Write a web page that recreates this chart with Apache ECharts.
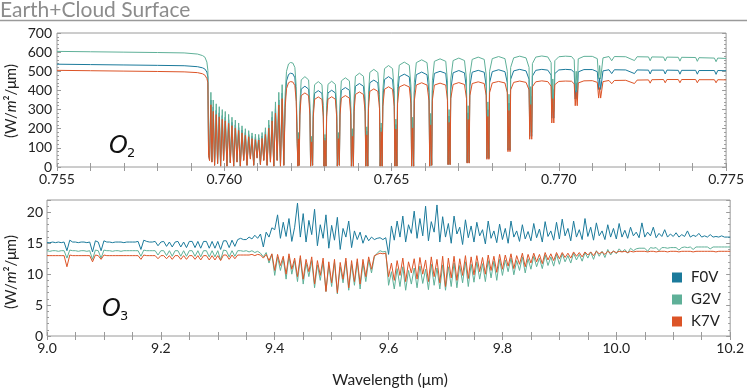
<!DOCTYPE html>
<html>
<head>
<meta charset="utf-8">
<script src="https://cdn.jsdelivr.net/npm/echarts@6/dist/echarts.min.js"></script>
<style>
  html, body { margin: 0; padding: 0; background: #fff; }
  #chart { width: 747px; height: 391px; }
</style>
</head>
<body>
<div id="chart"></div>
<script>
// ---- data ----
const starNames = ["F0V", "G2V", "K7V"];
const starColors = ["#1b7a9b", "#5fb098", "#dc5427"];

// O2 A-band panel (wavelength in um, flux in W/m2/um)
const o2Wave = [
  0.7550,0.7560,0.7570,0.7580,0.7588,0.7592,0.75935,0.75942,0.75948,0.75951,0.75953,
  0.75956,0.75960,0.75963,0.75967,0.75971,0.75976,0.75980,0.75985,0.75989,0.75994,0.75998,
  0.76003,0.76008,0.76013,0.76018,0.76023,0.76028,0.76033,0.76038,0.76043,0.76048,
  0.76053,0.76058,0.76063,0.76068,0.76073,0.76078,0.76083,0.76088,0.76093,0.76098,
  0.76103,0.76108,0.76113,0.76118,0.76123,0.76128,0.76133,0.76138,0.76143,0.76148,
  0.76153,0.76158,0.76163,0.76168,0.76173,0.76178,
  0.76182,0.76186,0.76192,0.76198,0.76205,0.76211,0.76215,0.76218,0.76220,0.76222,0.76224,
  0.76226,0.76230,0.76241,0.76252,0.76256,0.76258,0.76261,0.76264,
  0.76266,0.76270,0.76281,0.76292,0.76296,0.76298,0.76301,0.76304,
  0.76306,0.76310,0.76321,0.76332,0.76336,0.76338,0.76341,0.76344,
  0.76346,0.76350,0.76362,0.76374,0.76378,0.76380,0.76383,0.76386,
  0.76388,0.76392,0.76404,0.76416,0.76421,0.76423,0.76426,0.76429,
  0.76431,0.76435,0.76447,0.76459,0.76464,0.76466,0.76469,0.76472,
  0.76474,0.76479,0.76491,0.76503,0.76508,0.76510,0.76513,0.76516,
  0.76518,0.76523,0.76538,0.76553,0.76558,0.76560,0.76563,0.76566,
  0.76568,0.76574,0.76590,0.76606,0.76612,0.76614,0.76617,0.76620,
  0.76622,0.76628,0.76645,0.76662,0.76667,0.76669,0.76672,0.76675,
  0.76677,0.76684,0.76701,0.76718,0.76724,0.76726,0.76729,0.76732,
  0.76734,0.76741,0.76759,0.76777,0.76783,0.76785,0.76788,0.76791,
  0.76793,0.76801,0.76820,0.76839,0.76846,0.76848,0.76851,0.76854,
  0.76856,0.76865,0.76883,0.76902,0.76911,0.76913,0.76916,0.76919,
  0.76921,0.76931,0.76949,0.76967,0.76977,0.76979,0.76982,0.76985,
  0.76988,0.77000,0.77020,0.77038,0.77046,0.77049,0.77052,0.77055,
  0.77058,0.77075,0.77100,0.77115,0.77119,0.77122,0.77125,
  0.77132,0.77150,0.77158,0.77166,0.77200,0.77226,0.77234,0.77268,0.77273,0.77278,0.77313,0.77318,
  0.77323,0.77357,0.77362,0.77367,0.77409,0.77414,0.77419,0.77465,0.77470,0.77475,0.77500
];
const o2G2V = [
  604,602,600,598,596,590,582,574,548,505,90,
  40,390,30,350,10,330,20,315,5,300,40,
  290,5,275,25,260,5,245,30,230,5,
  215,40,200,10,190,50,178,10,172,55,
  170,15,180,40,205,10,245,30,290,5,
  340,40,390,5,430,10,
  380,500,538,546,543,520,420,150,5,180,10,
  330,455,472,455,330,5,160,10,
  320,430,446,430,320,5,170,5,
  320,432,448,432,320,5,180,10,
  340,450,466,450,340,5,200,5,
  360,474,490,474,360,5,210,5,
  380,494,510,494,380,5,230,5,
  400,514,530,514,400,5,250,5,
  420,532,548,532,420,5,260,5,
  440,545,560,545,440,5,280,10,
  450,552,565,552,450,15,300,15,
  460,556,569,556,460,25,320,25,
  480,562,574,562,480,50,340,50,
  500,566,577,566,500,100,380,100,
  520,570,579,570,520,180,420,180,
  540,574,580,575,545,290,460,290,
  555,576,579,577,560,400,500,400,
  565,578,578,566,460,530,460,
  570,577,555,577,576,556,576,575,555,575,574,554,
  574,573,553,573,572,552,571,569,550,569,567
];
const o2F0V = [
  537,535,533,531,529,524,518,512,496,470,70,
  36,350,27,314,9,296,18,283,5,269,36,
  260,5,247,22,233,5,220,27,206,5,
  193,36,180,9,170,45,160,9,154,49,
  153,13,162,36,184,9,220,27,260,5,
  305,36,350,5,386,9,
  341,449,483,490,487,466,377,135,5,161,9,
  295,407,422,407,295,5,143,9,
  286,385,399,385,286,5,152,5,
  286,387,401,387,286,5,161,9,
  303,401,415,401,303,5,178,5,
  320,422,436,422,320,5,187,5,
  338,440,454,440,338,5,205,5,
  356,457,472,457,356,5,222,5,
  372,471,485,471,372,5,230,5,
  389,482,496,482,389,5,248,9,
  398,489,500,489,398,13,266,13,
  407,492,504,492,407,22,283,22,
  422,495,505,495,422,45,299,45,
  440,498,508,498,440,88,334,88,
  458,502,510,502,458,160,370,160,
  475,505,510,506,480,255,405,255,
  488,507,510,508,493,355,440,355,
  497,509,509,498,405,466,405,
  502,508,488,508,507,488,507,506,486,506,506,486,
  506,505,485,505,505,485,504,504,484,504,503
];
const o2K7V = [
  505,503,501,499,497,493,487,480,462,440,60,
  33,325,25,291,8,274,17,262,4,249,33,
  241,4,228,21,216,4,203,25,191,4,
  178,33,166,8,158,41,148,8,143,46,
  141,12,149,33,170,8,203,25,241,4,
  282,33,324,4,357,8,
  310,409,440,446,444,425,343,123,4,147,8,
  271,373,387,373,271,4,131,8,
  262,353,366,353,262,4,139,4,
  262,354,367,354,262,4,148,8,
  272,360,373,360,272,4,160,4,
  288,379,392,379,288,4,168,4,
  304,395,408,395,304,4,184,4,
  316,406,419,406,316,4,198,4,
  330,418,430,418,330,4,204,4,
  345,428,440,428,345,4,220,8,
  349,428,438,428,349,12,233,12,
  357,431,441,431,357,20,248,20,
  372,436,445,436,372,40,264,40,
  388,439,447,439,388,80,295,80,
  403,442,449,442,403,145,326,145,
  419,445,450,446,422,230,357,230,
  430,447,449,448,434,320,390,320,
  439,450,451,442,360,415,360,
  446,452,435,452,453,436,454,455,438,456,457,440,
  457,457,440,457,457,440,456,456,440,456,455
];

// O3 panel: samples every 0.005 um from 9.000 to 10.200
const o3Start = 9.0;
const o3Step = 0.005;
const o3F0V = [
  15.1,15.1,15.2,15.1,15.2,15.1,15.2,13.8,15.5,15.2,
  15.2,15.1,15.2,15.2,15.1,15.2,13.6,15.4,15.2,13.8,
  15.4,15.2,15.2,15.1,15.2,15.2,15.2,15.1,15.2,15.2,
  15.2,15.2,15.3,14.0,15.5,15.3,15.2,15.2,15.3,14.6,
  15.2,15.3,14.5,15.2,14.4,15.2,15.3,14.4,15.2,14.3,
  15.3,15.3,14.3,15.3,14.2,15.3,15.3,14.2,15.3,14.2,
  15.3,14.0,15.4,15.4,14.3,15.5,14.5,15.6,15.8,15.6,
  15.6,16.0,15.7,16.3,15.8,16.5,14.4,16.8,16.0,17.5,
  17.2,19.6,15.8,18.4,16.1,19.0,15.3,17.6,21.5,16.0,
  19.8,15.2,18.7,16.4,20.5,14.6,18.0,15.8,19.6,14.2,
  17.9,15.5,19.2,14.0,17.4,16.0,18.6,14.3,17.0,15.6,
  16.8,15.0,16.3,15.4,16.0,15.6,15.8,15.9,15.6,15.9,
  13.2,17.8,15.5,18.6,16.0,19.4,15.2,18.0,16.6,20.2,
  15.8,19.0,16.2,21.0,15.4,18.5,16.8,21.2,15.2,19.3,
  16.0,18.2,15.0,19.4,16.5,17.6,14.8,18.8,15.9,17.8,
  15.2,18.4,16.2,17.2,14.9,18.6,15.8,17.0,15.1,18.1,
  15.6,17.4,15.0,18.6,16.0,17.0,15.3,18.0,15.7,16.9,
  15.4,18.2,15.9,17.3,15.2,18.5,16.1,17.0,15.5,18.4,
  15.7,18.9,16.2,17.4,15.4,18.6,16.0,17.2,15.6,19.0,
  16.1,17.6,15.5,18.3,16.2,17.0,15.6,18.0,16.0,17.4,
  15.7,18.2,16.0,17.1,15.8,17.6,16.2,16.8,15.9,18.3,
  16.0,16.8,16.2,17.6,15.9,16.6,16.1,17.2,16.0,16.5,
  16.1,16.7,16.0,16.4,16.1,17.0,16.0,16.3,16.1,16.6,
  16.0,16.2,16.0,16.4,16.0,16.1,16.0,16.2,16.0,16.0,
  16.0
];
const o3G2V = [
  13.8,13.7,13.8,13.8,13.7,13.8,13.8,12.6,13.9,13.8,
  13.8,13.7,13.8,13.8,13.7,13.8,12.4,13.9,13.8,12.6,
  13.9,13.8,13.8,13.7,13.8,13.8,13.7,13.8,13.8,13.8,
  13.8,13.8,13.8,12.9,13.9,13.8,13.8,13.8,13.8,13.1,
  13.8,13.8,13.0,13.8,12.9,13.8,13.8,12.9,13.8,12.9,
  13.8,13.8,12.9,13.8,12.8,13.8,13.8,12.8,13.8,12.8,
  13.8,12.3,13.9,13.8,12.8,13.8,12.9,13.8,13.8,13.7,
  13.8,13.6,13.8,13.5,13.7,13.4,12.8,13.5,11.8,13.2,
  9.8,12.8,10.6,12.5,9.2,12.9,10.0,12.2,8.8,12.6,
  8.4,11.8,9.6,12.2,7.8,11.5,9.0,12.0,7.2,11.4,
  8.0,11.9,6.8,11.2,8.6,12.1,7.4,11.6,8.2,12.0,
  7.6,11.8,8.8,12.3,10.2,12.8,13.4,13.8,13.6,13.7,
  8.2,10.4,7.6,10.9,8.0,11.2,7.4,10.6,8.4,11.0,
  7.8,11.3,8.5,10.8,7.5,11.6,8.2,11.0,7.6,11.5,
  7.4,11.2,8.0,11.8,7.8,11.4,8.6,12.0,8.0,11.6,
  8.7,12.0,9.2,11.7,8.8,12.2,9.4,12.1,9.0,12.4,
  9.8,12.3,10.4,12.6,9.9,12.2,10.6,12.8,10.2,12.5,
  10.8,12.9,11.2,12.6,10.9,13.1,11.4,12.8,11.3,13.2,
  11.6,13.3,12.0,13.0,11.8,13.4,12.3,13.2,12.1,13.5,
  12.6,13.6,12.4,13.8,12.9,13.7,12.7,14.0,13.1,13.8,
  13.3,14.1,13.6,14.0,13.4,14.2,13.8,14.1,14.2,14.2,
  14.2,13.7,14.3,14.2,14.3,13.8,14.3,14.3,14.2,14.3,
  14.3,14.3,13.9,14.3,14.4,14.3,14.4,14.0,14.4,14.4,
  14.4,14.4,14.4,14.1,14.4,14.4,14.4,14.4,14.4,14.4,
  14.4
];
const o3K7V = [
  13.0,13.0,13.0,13.0,13.0,13.0,13.0,11.2,13.1,13.0,
  13.0,13.0,13.0,13.0,13.0,13.0,12.0,13.1,13.0,12.4,
  13.1,13.0,13.0,13.0,13.0,13.0,13.0,13.0,13.0,13.0,
  13.0,13.0,13.0,12.4,13.1,13.0,13.0,13.0,13.0,12.5,
  13.0,13.0,12.5,13.0,12.4,13.0,13.0,12.4,13.0,12.4,
  13.0,13.0,12.4,13.0,12.3,13.0,13.0,12.3,13.0,12.3,
  13.0,12.2,13.1,13.1,12.4,13.1,12.5,13.1,13.1,13.1,
  13.1,13.1,13.2,13.0,13.2,13.1,12.6,13.2,12.2,13.3,
  10.6,13.2,11.4,12.9,10.0,13.3,10.8,12.6,9.6,13.0,
  9.2,12.4,10.4,12.8,8.4,12.2,9.8,12.6,7.2,12.0,
  8.6,12.4,7.0,11.9,9.2,12.6,7.8,12.2,8.8,12.5,
  8.4,12.4,9.6,12.8,10.8,13.0,13.2,13.4,13.3,13.4,
  9.6,11.8,9.0,12.2,9.8,12.6,8.8,12.0,10.2,12.5,
  9.2,12.7,10.0,12.3,8.8,12.8,9.6,12.4,8.6,12.9,
  8.0,12.6,9.4,12.9,9.0,12.5,9.8,13.0,9.3,12.8,
  9.9,13.0,10.4,12.7,10.0,13.1,10.6,12.9,10.3,13.2,
  10.8,13.1,11.3,13.3,10.9,13.0,11.6,13.4,11.2,13.2,
  11.8,13.4,12.0,13.2,11.7,13.5,12.3,13.3,12.2,13.5,
  12.5,13.5,12.7,13.4,12.6,13.6,12.9,13.5,12.8,13.6,
  13.1,13.6,13.0,13.7,13.3,13.6,13.2,13.7,13.4,13.7,
  13.5,13.7,13.6,13.7,13.5,13.7,13.6,13.7,13.7,13.7,
  13.7,13.6,13.7,13.7,13.6,13.7,13.7,13.7,13.6,13.7,
  13.7,13.7,13.6,13.7,13.7,13.7,13.7,13.6,13.7,13.7,
  13.7,13.7,13.7,13.7,13.7,13.6,13.7,13.7,13.7,13.7,
  13.7
];

// ---- chart ----
const chart = echarts.init(document.getElementById("chart"));
const gray = "#9a9a9a";
const font = "Lato";

function xCfg(grid, min, max, interval, fmt, top) {
  return {
    type: "value", gridIndex: grid, min, max, interval,
    position: top ? "top" : "bottom",
    axisLine: { show: false },
    axisTick: { show: true, inside: true, length: 4, lineStyle: { color: gray } },
    axisLabel: { show: !top, formatter: fmt, margin: 5, color: "#222", fontSize: 14, fontFamily: font },
    splitLine: { show: false },
  };
}
function yCfg(grid, max, interval, right, margin) {
  return {
    type: "value", gridIndex: grid, min: 0, max, interval,
    position: right ? "right" : "left",
    axisLine: { show: false },
    axisTick: { show: true, inside: true, length: 4, lineStyle: { color: gray } },
    minorTick: { show: true, splitNumber: 5, length: 2, lineStyle: { color: gray } },
    axisLabel: { show: !right, margin, color: "#222", fontSize: 14, fontFamily: font },
    splitLine: { show: false },
  };
}

const o2Sets = [o2F0V, o2G2V, o2K7V];
const o3Sets = [o3F0V, o3G2V, o3K7V];
const series = [];
starNames.forEach((name, k) => {
  series.push({
    name, type: "line", xAxisIndex: 0, yAxisIndex: 0, showSymbol: false,
    color: starColors[k], lineStyle: { width: 1, color: starColors[k] },
    data: o2Wave.map((w, i) => [w, o2Sets[k][i]]),
  });
});
starNames.forEach((name, k) => {
  series.push({
    name, type: "line", xAxisIndex: 2, yAxisIndex: 2, showSymbol: false,
    color: starColors[k], lineStyle: { width: 1, color: starColors[k] },
    data: o3Sets[k].map((v, i) => [o3Start + i * o3Step, v]),
  });
});

const fmtO2 = (v) => (Math.abs(v * 200 - Math.round(v * 200)) < 1e-6 ? v.toFixed(3) : "");
const fmtO3 = (v) => (Math.abs(v * 5 - Math.round(v * 5)) < 1e-6 ? v.toFixed(1) : "");

function sideText(x, y, rot, text, rich, size) {
  return {
    type: "text", x, y, rotation: rot,
    style: {
      text, rich, fill: "#222", fontSize: size, fontFamily: font,
      align: "center", verticalAlign: "middle", textAlign: "center", textVerticalAlign: "middle",
    },
  };
}
const unitRich = { i: { fontStyle: "italic", fontSize: 15, fontFamily: font, fill: "#222" } };

chart.setOption({
  animation: false,
  grid: [
    { left: 57, top: 33, width: 671, height: 134, show: true, borderColor: gray, borderWidth: 1 },
    { left: 47, top: 200, width: 685, height: 136, show: true, borderColor: gray, borderWidth: 1 },
  ],
  xAxis: [
    xCfg(0, 0.755, 0.775, 0.001, fmtO2, false),
    xCfg(0, 0.755, 0.775, 0.001, fmtO2, true),
    xCfg(1, 9.0, 10.2, 0.05, fmtO3, false),
    xCfg(1, 9.0, 10.2, 0.05, fmtO3, true),
  ],
  yAxis: [
    yCfg(0, 700, 100, false, 5),
    yCfg(0, 700, 100, true, 5),
    yCfg(1, 22, 5, false, 4),
    yCfg(1, 22, 5, true, 4),
  ],
  legend: {
    data: starNames, orient: "vertical", left: 667, top: 265,
    icon: "rect", itemWidth: 10, itemHeight: 10, itemGap: 7,
    textStyle: { fontSize: 15, color: "#222", fontFamily: font, padding: [0, 0, 0, 4] },
  },
  series,
  graphic: [
    { type: "text", x: 0, y: 10, style: { text: "Earth+Cloud Surface", fill: "#8c8c8c", fontSize: 21, fontFamily: font, verticalAlign: "middle", textVerticalAlign: "middle" } },
    { type: "line", shape: { x1: 0, y1: 20.5, x2: 747, y2: 20.5 }, style: { stroke: gray, lineWidth: 1.5 } },
    sideText(11, 101, Math.PI / 2, "(W/{i|m}\u00b2/\u03bcm)", unitRich, 15),
    sideText(11, 272, Math.PI / 2, "(W/{i|m}\u00b2/\u03bcm)", unitRich, 15),
    sideText(390, 380, 0, "Wavelength (\u03bcm)", null, 15.5),
    { type: "text", x: 109, y: 147, style: { text: "O", fill: "#111", fontSize: 24, fontStyle: "italic", fontFamily: "DejaVu Sans", verticalAlign: "middle", textVerticalAlign: "middle" } },
    { type: "text", x: 127, y: 154, style: { text: "2", fill: "#111", fontSize: 13, fontFamily: "DejaVu Sans", verticalAlign: "middle", textVerticalAlign: "middle" } },
    { type: "text", x: 102, y: 310, style: { text: "O", fill: "#111", fontSize: 24, fontStyle: "italic", fontFamily: "DejaVu Sans", verticalAlign: "middle", textVerticalAlign: "middle" } },
    { type: "text", x: 120, y: 317, style: { text: "3", fill: "#111", fontSize: 13, fontFamily: "DejaVu Sans", verticalAlign: "middle", textVerticalAlign: "middle" } },
  ],
});
</script>
</body>
</html>
